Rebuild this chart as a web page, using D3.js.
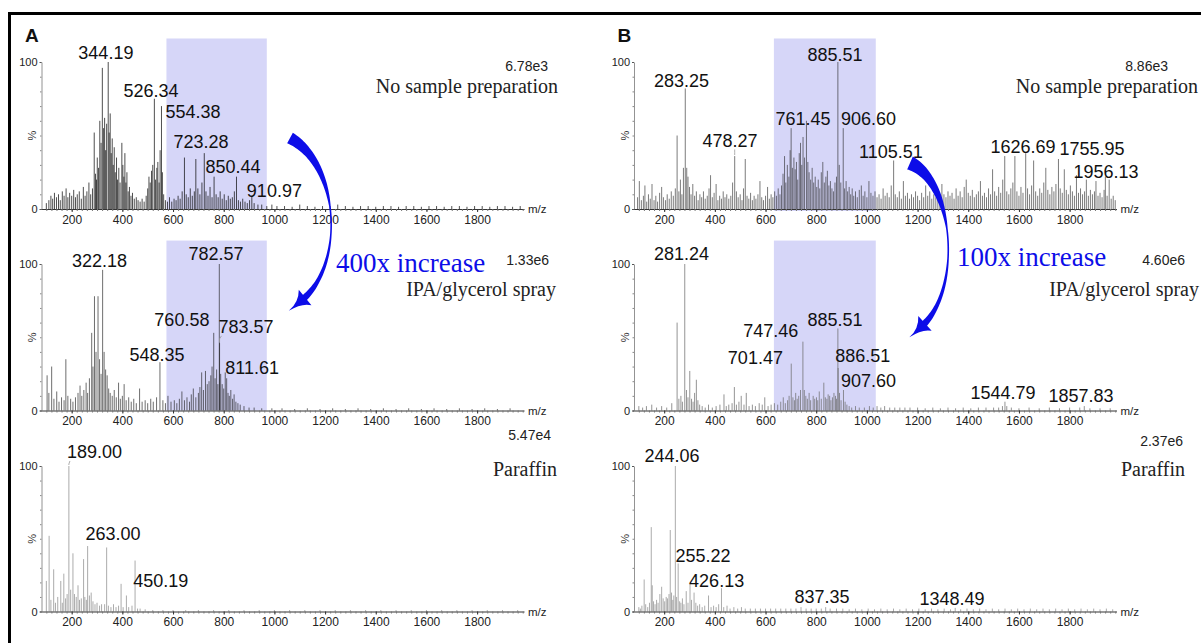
<!DOCTYPE html>
<html>
<head>
<meta charset="utf-8">
<script src="https://cdn.jsdelivr.net/npm/d3@7"></script>
<style>
  body { margin: 0; background: #fff; }
</style>
</head>
<body>
<div id="chart"></div>
<script>
// ---- data (m/z, relative intensity %) ----
const mzDomain = [75, 1985];
const xTickValues = [200, 400, 600, 800, 1000, 1200, 1400, 1600, 1800];
const yTickValues = [0, 100];

// A, no sample preparation
const peaksA1 = [[100,4],[110,6],[118,9],[125,7],[132,11],[140,8],[148,10],[155,6],[163,12],[170,9],[178,14],[185,8],[192,11],[200,9],[208,13],[215,8],[222,10],[230,12],[238,7],[246,15],[253,9],[260,12],[268,18],[275,10],[282,14],[289,52],[294,24],[298,20],[301,35],[306,28],[311,60],[316,45],[321,96],[326,55],[330,62],[334,40],[338,58],[344.19,100],[348,52],[352,65],[356,38],[360,48],[364,30],[368,42],[372,25],[377,35],[381,20],[386,28],[391,18],[398,45],[402,30],[406,22],[410,38],[414,18],[418,25],[423,12],[428,15],[434,9],[440,11],[447,7],[455,8],[462,6],[470,5],[478,7],[486,5],[494,9],[500,14],[505,22],[510,18],[515,26],[520,30],[526.34,75],[531,20],[536,28],[540,32],[545,18],[549,40],[554.38,70],[558,25],[563,10],[570,6],[578,5],[586,8],[595,5],[604,7],[612,6],[620,9],[628,7],[636,12],[645,35],[652,10],[660,8],[668,14],[676,9],[684,12],[690,34],[698,14],[706,10],[714,18],[723.28,38],[730,12],[738,9],[746,15],[754,8],[762,22],[770,10],[778,8],[786,12],[794,7],[802,10],[810,6],[818,9],[826,7],[834,8],[842,12],[850.44,22],[858,6],[866,5],[875,7],[884,5],[893,4],[902,6],[910.97,9],[920,4],[935,3],[950,3],[970,2],[990,3],[1010,2],[1040,2],[1070,1.5],[1100,3],[1130,2],[1160,1.5],[1190,2],[1220,2],[1250,3],[1280,2],[1310,1.5],[1340,2],[1370,2],[1400,1.5],[1430,2],[1460,2],[1490,1.5],[1520,2],[1550,2],[1580,1.5],[1610,2],[1640,2],[1670,1.5],[1700,2],[1730,2],[1760,1.5],[1790,2],[1820,2],[1850,1.5],[1880,2],[1910,2],[1940,1.5],[1970,2]];
// A, IPA/glycerol spray
const peaksA2 = [[103,24],[110,12],[121,30],[130,8],[141,13],[150,6],[160,9],[170,7],[177,35],[185,10],[196,8],[205,6],[215,9],[225,12],[233,17],[240,10],[248,14],[257,19],[263,12],[270,22],[279,53],[284,30],[290,78],[296,40],[304,78],[310,35],[316,25],[322.18,96],[328,40],[334,28],[340,24],[346,15],[352,12],[360,10],[368,14],[376,9],[385,19],[392,8],[400,10],[407,18],[415,7],[425,9],[435,6],[445,8],[455,5],[468,15],[478,6],[490,7],[500,5],[512,8],[522,6],[535,9],[548.35,33],[560,7],[570,5],[580,10],[592,6],[605,7],[615,5],[625,8],[635,13],[645,7],[655,9],[665,6],[672,11],[680,15],[690,9],[700,12],[706,16],[713,26],[720,14],[728,27],[735,18],[742,20],[749,24],[754,30],[760.58,53],[766,22],[772,28],[777,18],[782.57,100],[783.57,46],[788,25],[794,18],[800,15],[806,26],[811.61,22],[817,12],[822,10],[828,14],[835,8],[841,11],[848,6],[856,5],[865,4],[880,3],[900,2],[920,2],[950,1.5],[990,1.5],[1030,1.5],[1080,1],[1130,1.5],[1180,1],[1230,1.5],[1280,1],[1330,1.5],[1380,1],[1430,1.5],[1480,1],[1530,1.5],[1580,1],[1630,1.5],[1680,1],[1730,1.5],[1780,1],[1830,1.5],[1880,1],[1930,1.5]];
// A, paraffin
const peaksA3 = [[100,21],[111,52],[118,8],[129,29],[136,6],[145,10],[157,21],[163,6],[169,26],[176,9],[182,12],[189.00,100],[196,15],[205,40],[211,12],[218,10],[225,18],[231,8],[238,9],[247,36],[252,10],[258,8],[263.00,45],[270,11],[277,13],[284,7],[292,5],[300,6],[310,4],[318,5],[330,5],[338,44],[345,4],[355,3],[365,5],[375,3],[385,4],[395,19],[403,3],[416,11],[425,3],[438,4],[450.19,35],[460,2],[470,2],[490,1.5],[520,1],[560,1],[600,1],[650,1],[700,1],[760,1],[820,1],[880,1],[940,1],[1000,1],[1060,1],[1120,1],[1180,1],[1240,1],[1300,1],[1360,1],[1420,1],[1480,1],[1540,1],[1600,1],[1660,1],[1720,1],[1780,1],[1840,1],[1900,1],[1960,1]];
// B, no sample preparation
const peaksB1 = [[95,8],[102,19],[110,6],[118,9],[124,16],[131,5],[138,10],[145,7],[152,17],[160,6],[167,9],[174,5],[182,11],[190,15],[197,8],[205,6],[212,10],[220,7],[228,12],[236,9],[244,14],[251,50],[258,12],[264,20],[270,10],[276,28],[283.25,82],[289,28],[294,22],[300,15],[306,10],[313,17],[320,9],[327,12],[334,6],[341,10],[348,8],[355,12],[362,7],[370,9],[377,14],[383,23],[390,8],[397,11],[405,17],[412,6],[419,9],[426,7],[433,12],[440,8],[447,10],[455,7],[463,9],[470,18],[478.27,36],[485,12],[492,8],[500,10],[507,6],[513,14],[520,34],[527,9],[534,7],[541,11],[548,6],[555,9],[562,7],[570,10],[578,19],[585,8],[592,6],[600,9],[608,15],[615,7],[622,10],[629,8],[636,12],[643,9],[650,14],[657,10],[663,16],[669,24],[675,36],[680,18],[686,30],[692,22],[697,40],[701,55],[706,28],[712,35],[717,27],[722,32],[727,20],[733,38],[738,45],[743,30],[748,49],[754,35],[761.45,60],[767,32],[772,25],[778,20],[784,28],[790,18],[796,22],[802,15],[808,20],[814,14],[820,25],[826,32],[832,18],[838,22],[844,26],[850,16],[856,19],[862,14],[868,12],[874,18],[880,22],[885.51,100],[891,30],[897,18],[906.60,55],[912,14],[918,19],[924,12],[930,15],[936,10],[942,14],[948,9],[955,12],[962,8],[970,13],[978,16],[985,9],[992,12],[1000,8],[1008,19],[1016,11],[1024,9],[1032,12],[1040,8],[1048,10],[1056,7],[1064,14],[1072,9],[1080,11],[1088,8],[1096,16],[1105.51,33],[1112,10],[1120,8],[1128,12],[1136,7],[1144,19],[1152,9],[1160,11],[1168,7],[1176,10],[1184,8],[1192,12],[1200,9],[1208,6],[1216,11],[1224,8],[1232,16],[1240,9],[1248,12],[1256,7],[1264,10],[1272,8],[1280,13],[1288,9],[1296,17],[1304,10],[1312,8],[1320,12],[1328,9],[1336,11],[1344,7],[1352,14],[1360,9],[1368,12],[1376,8],[1384,15],[1392,20],[1400,11],[1408,9],[1416,13],[1424,8],[1432,10],[1440,12],[1448,19],[1456,9],[1464,11],[1472,8],[1480,14],[1488,10],[1496,27],[1504,12],[1512,9],[1520,15],[1528,11],[1536,20],[1544,36],[1552,12],[1560,10],[1568,14],[1576,18],[1584,36],[1592,12],[1600,9],[1608,15],[1616,11],[1626.69,38],[1634,14],[1642,10],[1650,16],[1658,33],[1666,12],[1674,9],[1682,14],[1690,11],[1698,18],[1706,28],[1714,13],[1722,10],[1730,15],[1738,12],[1746,17],[1755.95,34],[1763,14],[1771,11],[1779,27],[1787,13],[1795,10],[1803,16],[1811,12],[1819,9],[1827,23],[1835,11],[1843,14],[1851,10],[1859,12],[1866,20],[1874,9],[1882,13],[1890,10],[1898,12],[1904,19],[1912,9],[1920,11],[1928,8],[1936,13],[1941,22],[1948,9],[1956.13,20],[1964,7],[1972,9],[1980,6]];
// B, IPA/glycerol spray
const peaksB2 = [[100,3],[115,2],[130,3],[151,4],[170,2],[190,3],[210,2],[230,5],[251,60],[258,8],[266,10],[272,6],[281.24,100],[288,14],[294,9],[301,27],[308,8],[314,6],[320,12],[327,21],[333,7],[340,4],[350,3],[362,2],[375,4],[390,2],[405,3],[420,4],[436,11],[445,3],[455,4],[468,5],[477,16],[485,4],[495,6],[504,10],[515,4],[524,12],[535,3],[548,4],[560,3],[575,5],[587,4],[597,9],[610,3],[622,4],[635,5],[648,4],[660,6],[670,9],[678,5],[687,7],[693,10],[701.47,32],[708,9],[714,7],[719,12],[725,8],[731,10],[738,14],[747.46,47],[753,14],[759,10],[765,8],[772,12],[778,7],[788,10],[794,8],[801,9],[806,7],[812,13],[820,8],[830,19],[836,9],[842,8],[847,11],[853,10],[858,7],[864,9],[870,12],[876,10],[880,8],[885.51,56],[886.51,29],[892,12],[898,7],[907.60,14],[914,6],[921,4],[930,3],[940,2],[955,3],[970,2],[990,2],[1010,3],[1025,2],[1040,3],[1055,2],[1070,3],[1090,2],[1110,2],[1130,2],[1150,2],[1170,2],[1200,2],[1230,1.5],[1260,2],[1290,1.5],[1320,2],[1350,1.5],[1380,2],[1410,1.5],[1440,2],[1470,2],[1500,2],[1520,2],[1535,3],[1544.79,6],[1552,3],[1570,2],[1600,1.5],[1640,2],[1680,1.5],[1720,2],[1760,1.5],[1800,2],[1840,2],[1857.83,3],[1880,1.5],[1920,1.5],[1960,1.5]];
// B, paraffin
const peaksB3 = [[100,3],[106,2],[112,4],[121,22],[127,5],[135,3],[142,6],[149,58],[153,18],[158,7],[164,5],[170,8],[176,6],[183,12],[190,17],[196,9],[202,7],[208,10],[213,9],[219,12],[224,56],[229,13],[234,8],[238,11],[244.06,100],[249,10],[255.22,33],[261,7],[266,6],[272,9],[278,5],[287,14],[294,6],[302,19],[308,8],[318,13],[325,6],[332,4],[340,5],[350,3],[360,4],[375,11],[385,3],[395,4],[405,3],[415,5],[426.13,16],[435,3],[448,4],[460,2],[475,3],[490,2],[505,3],[520,2],[540,2],[560,2],[580,2],[600,2],[620,2],[640,2],[660,2],[680,2],[700,2],[720,2],[740,3],[760,2],[780,2],[800,2],[820,2],[837.35,3],[855,2],[880,2],[905,2],[930,1.5],[955,2],[980,1.5],[1005,2],[1030,1.5],[1055,2],[1080,1.5],[1105,2],[1130,1.5],[1155,2],[1180,1.5],[1205,2],[1230,1.5],[1255,2],[1280,1.5],[1305,2],[1330,1.5],[1348.49,2.5],[1370,1.5],[1395,2],[1420,1.5],[1445,2],[1470,1.5],[1495,2],[1520,1.5],[1545,2],[1570,1.5],[1595,2],[1620,1.5],[1645,2],[1670,1.5],[1695,2],[1720,1.5],[1745,2],[1770,1.5],[1795,2],[1820,1.5],[1845,2],[1870,1.5],[1895,2],[1920,1.5],[1945,2],[1970,1.5]];

// peak annotations: [text, label centre m/z, label baseline %]
const labelsA1 = [["344.19",335,102],["526.34",513,76],["554.38",679,62],["723.28",710,41.5],["850.44",837,24.5],["910.97",1000,8]];
const labelsA2 = [["322.18",310,98],["782.57",770,103],["760.58",635,57.5],["783.57",888,53],["548.35",537,34],["811.61",912,25]];
const labelsA3 = [["189.00",290,105.5],["263.00",363,49],["450.19",552,16.5]];
const labelsB1 = [["885.51",874,101],["283.25",268,83],["761.45",748,57],["906.60",1006,57],["478.27",460,42.5],["1105.51",1095,34.7],["1626.69",1616,38],["1755.95",1888,36.7],["1956.13",1944,21]];
const labelsB2 = [["281.24",268,103],["885.51",874,58],["747.46",621,50],["886.51",984,33],["701.47",560,32],["907.60",1006,16],["1544.79",1537,8],["1857.83",1845,6]];
const labelsB3 = [["244.06",231,103],["255.22",353,34],["426.13",407,17],["837.35",823,5.5],["1348.49",1336,4.5]];

const baseIntensities = [["6.78e3","1.33e6","5.47e4"],["8.86e3","4.60e6","2.37e6"]];
const conditions = ["No sample preparation","IPA/glycerol spray","Paraffin"];
const panelLetters = ["A","B"];
const increaseText = ["400x increase","100x increase"];
// highlighted m/z windows
const bandMz = [[574, 970],[633, 1035]];

// ---- layout ----
const svgWidth = 1201, svgHeight = 643;
const colX0 = [40, 632.5];
const plotW = 484;
const rows = [{axis:209, top:62}, {axis:410.5, top:264}, {axis:611.5, top:466}];
const lineColor = [["#0a0a0a","#1a1a1a","#8a8a8a"],["#222","#6a6a6a","#8a8a8a"]];
const lineOpacity = [[0.9,0.8,0.9],[0.75,0.9,0.9]];
const intRight = [[548,549,551],[1168,1185,1183]];
const intBase = [[71,265,440],[71,265,446]];
const condRight = [[558,556,557],[1198,1199,1185]];
const condBase = [[93,296,476],[93,296,476]];
const blue = "#0d0de8";

const allPeaks = [[peaksA1,peaksA2,peaksA3],[peaksB1,peaksB2,peaksB3]];
const allLabels = [[labelsA1,labelsA2,labelsA3],[labelsB1,labelsB2,labelsB3]];

const sans = "'Liberation Sans', Arial, sans-serif";
const serif = "'Liberation Serif', 'Times New Roman', serif";

const svg = d3.select("#chart").append("svg")
    .attr("width", svgWidth).attr("height", svgHeight)
    .attr("font-family", sans);

// frame
svg.append("line").attr("x1", 8).attr("x2", svgWidth).attr("y1", 13.5).attr("y2", 13.5)
    .attr("stroke", "#000").attr("stroke-width", 3);
svg.append("line").attr("x1", 9.5).attr("x2", 9.5).attr("y1", 12).attr("y2", svgHeight)
    .attr("stroke", "#000").attr("stroke-width", 3);

panelLetters.forEach((t, c) => {
    svg.append("text").attr("x", colX0[c] - 15).attr("y", 42)
        .attr("font-size", 19).attr("font-weight", "bold").attr("fill", "#111").text(t);
});

for (let c = 0; c < 2; c++) {
    for (let r = 0; r < 3; r++) {
        const row = rows[r];
        const x = d3.scaleLinear().domain(mzDomain).range([colX0[c], colX0[c] + plotW]);
        const y = d3.scaleLinear().domain([0, 100]).range([row.axis, row.top]);
        const g = svg.append("g");

        // highlighted window (first two rows only)
        if (r < 2) {
            g.append("rect")
                .attr("x", x(bandMz[c][0]))
                .attr("width", x(bandMz[c][1]) - x(bandMz[c][0]))
                .attr("y", y(116))
                .attr("height", y(0) - y(116) + (r === 0 && c === 1 ? 2 : 0))
                .attr("fill", "#d6d6f8");
        }

        // spectrum sticks
        const peaks = allPeaks[c][r];
        g.append("g").selectAll("line")
            .data(peaks)
            .join("line")
            .attr("x1", d => x(d[0])).attr("x2", d => x(d[0]))
            .attr("y1", y(0)).attr("y2", d => y(d[1]))
            .attr("stroke", lineColor[c][r])
            .attr("stroke-opacity", lineOpacity[c][r])
            .attr("stroke-width", 0.8);

        // x axis: minor + major ticks
        const minor = d3.range(100, 1990, 20);
        g.append("g").attr("transform", `translate(0,${row.axis})`)
            .call(d3.axisBottom(x).tickValues(minor).tickSize(2).tickFormat("").tickSizeOuter(0))
            .call(a => a.selectAll("line").attr("stroke", "#777"))
            .call(a => a.select(".domain").attr("stroke", "#333"));
        g.append("g").attr("transform", `translate(0,${row.axis})`)
            .call(d3.axisBottom(x).tickValues(xTickValues).tickSize(3).tickSizeOuter(0).tickFormat(d3.format("d")))
            .call(a => a.select(".domain").remove())
            .call(a => a.selectAll("line").attr("stroke", "#333"))
            .call(a => a.selectAll("text").attr("font-size", 12).attr("font-family", sans).attr("fill", "#222"));

        g.append("text").attr("x", x.range()[1] + 4).attr("y", row.axis + 4)
            .attr("font-size", 11.5).attr("fill", "#222").text("m/z");

        // y axis
        const yx = colX0[c] + 1.5;
        g.append("g").attr("transform", `translate(${yx},0)`)
            .call(d3.axisLeft(y).tickValues(d3.range(0, 101, 10)).tickSize(1.5).tickFormat("").tickSizeOuter(0))
            .call(a => a.selectAll("line").attr("stroke", "#888"))
            .call(a => a.select(".domain").attr("stroke", "#777").attr("stroke-width", 0.8));
        g.append("g").attr("transform", `translate(${yx},0)`)
            .call(d3.axisLeft(y).tickValues(yTickValues).tickSize(2).tickPadding(2).tickSizeOuter(0))
            .call(a => a.select(".domain").remove())
            .call(a => a.selectAll("line").attr("stroke", "#555"))
            .call(a => a.selectAll("text").attr("font-size", 11).attr("font-family", sans).attr("fill", "#222"));

        g.append("text")
            .attr("transform", `translate(${colX0[c] - 4},${(row.axis + row.top) / 2}) rotate(-90)`)
            .attr("text-anchor", "middle").attr("font-size", 11).attr("fill", "#333").text("%");

        // peak annotations with leader lines
        const labs = allLabels[c][r];
        labs.forEach(l => {
            const t = g.append("text")
                .attr("x", x(l[1])).attr("y", y(l[2]))
                .attr("text-anchor", "middle")
                .attr("font-size", 18).attr("fill", "#111").text(l[0]);
            const w = t.node().getComputedTextLength();
            const mz = +l[0];
            const pk = peaks.find(p => Math.abs(p[0] - mz) < 0.001);
            if (!pk) return;
            const px = x(pk[0]), py = y(pk[1]);
            const base = y(l[2]) + 3;
            if (py > base + 5) {
                const lx = Math.max(x(l[1]) - w / 2 + 3, Math.min(px, x(l[1]) + w / 2 - 3));
                g.append("path")
                    .attr("d", `M${px},${py - 1} L${px},${Math.max(base + 3, py - 6)} L${lx},${base}`)
                    .attr("fill", "none").attr("stroke", "#999").attr("stroke-width", 0.8);
            }
        });

        // header texts
        g.append("text").attr("x", intRight[c][r]).attr("y", intBase[c][r])
            .attr("text-anchor", "end").attr("font-size", 14).attr("fill", "#222")
            .text(baseIntensities[c][r]);
        g.append("text").attr("x", condRight[c][r]).attr("y", condBase[c][r])
            .attr("text-anchor", "end").attr("font-size", 20).attr("font-family", serif)
            .attr("fill", "#222").text(conditions[r]);
    }
}

// ---- curved blue arrows ----
function swoosh(p, widths, headLen, headHalf) {
    const bez = t => {
        const u = 1 - t;
        return [
            u*u*u*p[0][0] + 3*u*u*t*p[1][0] + 3*u*t*t*p[2][0] + t*t*t*p[3][0],
            u*u*u*p[0][1] + 3*u*u*t*p[1][1] + 3*u*t*t*p[2][1] + t*t*t*p[3][1]
        ];
    };
    const der = t => {
        const u = 1 - t;
        return [
            3*u*u*(p[1][0]-p[0][0]) + 6*u*t*(p[2][0]-p[1][0]) + 3*t*t*(p[3][0]-p[2][0]),
            3*u*u*(p[1][1]-p[0][1]) + 6*u*t*(p[2][1]-p[1][1]) + 3*t*t*(p[3][1]-p[2][1])
        ];
    };
    const wAt = d3.scaleLinear().domain(widths.map(d => d[0])).range(widths.map(d => d[1]));
    const left = [], right = [];
    const n = 80;
    for (let i = 0; i <= n; i++) {
        const t = i / n;
        const pt = bez(t), d = der(t);
        const len = Math.hypot(d[0], d[1]);
        const nx = -d[1] / len, ny = d[0] / len;
        const hw = wAt(t) / 2;
        left.push([pt[0] + nx * hw, pt[1] + ny * hw]);
        right.push([pt[0] - nx * hw, pt[1] - ny * hw]);
    }
    const body = left.concat(right.reverse());
    svg.append("path").attr("d", "M" + body.map(q => q.join(",")).join("L") + "Z").attr("fill", blue);
    const end = bez(1), d = der(1);
    const len = Math.hypot(d[0], d[1]);
    const ux = d[0] / len, uy = d[1] / len;
    const nx = -uy, ny = ux;
    const bx = end[0] - ux * 4, by = end[1] - uy * 4;
    const tip = [end[0] + ux * headLen, end[1] + uy * headLen];
    svg.append("path")
        .attr("d", `M${bx + nx * headHalf},${by + ny * headHalf} Q${end[0] + ux * 4},${end[1] + uy * 4} ${tip[0]},${tip[1]} Q${end[0] + ux * 2 + nx * -2},${end[1] + uy * 2 + ny * -2} ${bx - nx * headHalf},${by - ny * headHalf} Z`)
        .attr("fill", blue);
}

swoosh([[290,138],[340,165],[345,265],[302,300]],
    [[0,12],[0.15,8],[0.45,1.6],[0.6,1.6],[0.85,4],[1,7]], 17, 10);
swoosh([[910,163],[955,183],[962,290],[922,326]],
    [[0,14],[0.15,9],[0.45,1.6],[0.6,1.6],[0.85,4],[1,7]], 17, 10);

svg.append("text").attr("x", 336).attr("y", 272).attr("font-size", 27)
    .attr("font-family", serif).attr("fill", blue).text(increaseText[0]);
svg.append("text").attr("x", 957).attr("y", 266).attr("font-size", 27)
    .attr("font-family", serif).attr("fill", blue).text(increaseText[1]);
</script>
</body>
</html>
